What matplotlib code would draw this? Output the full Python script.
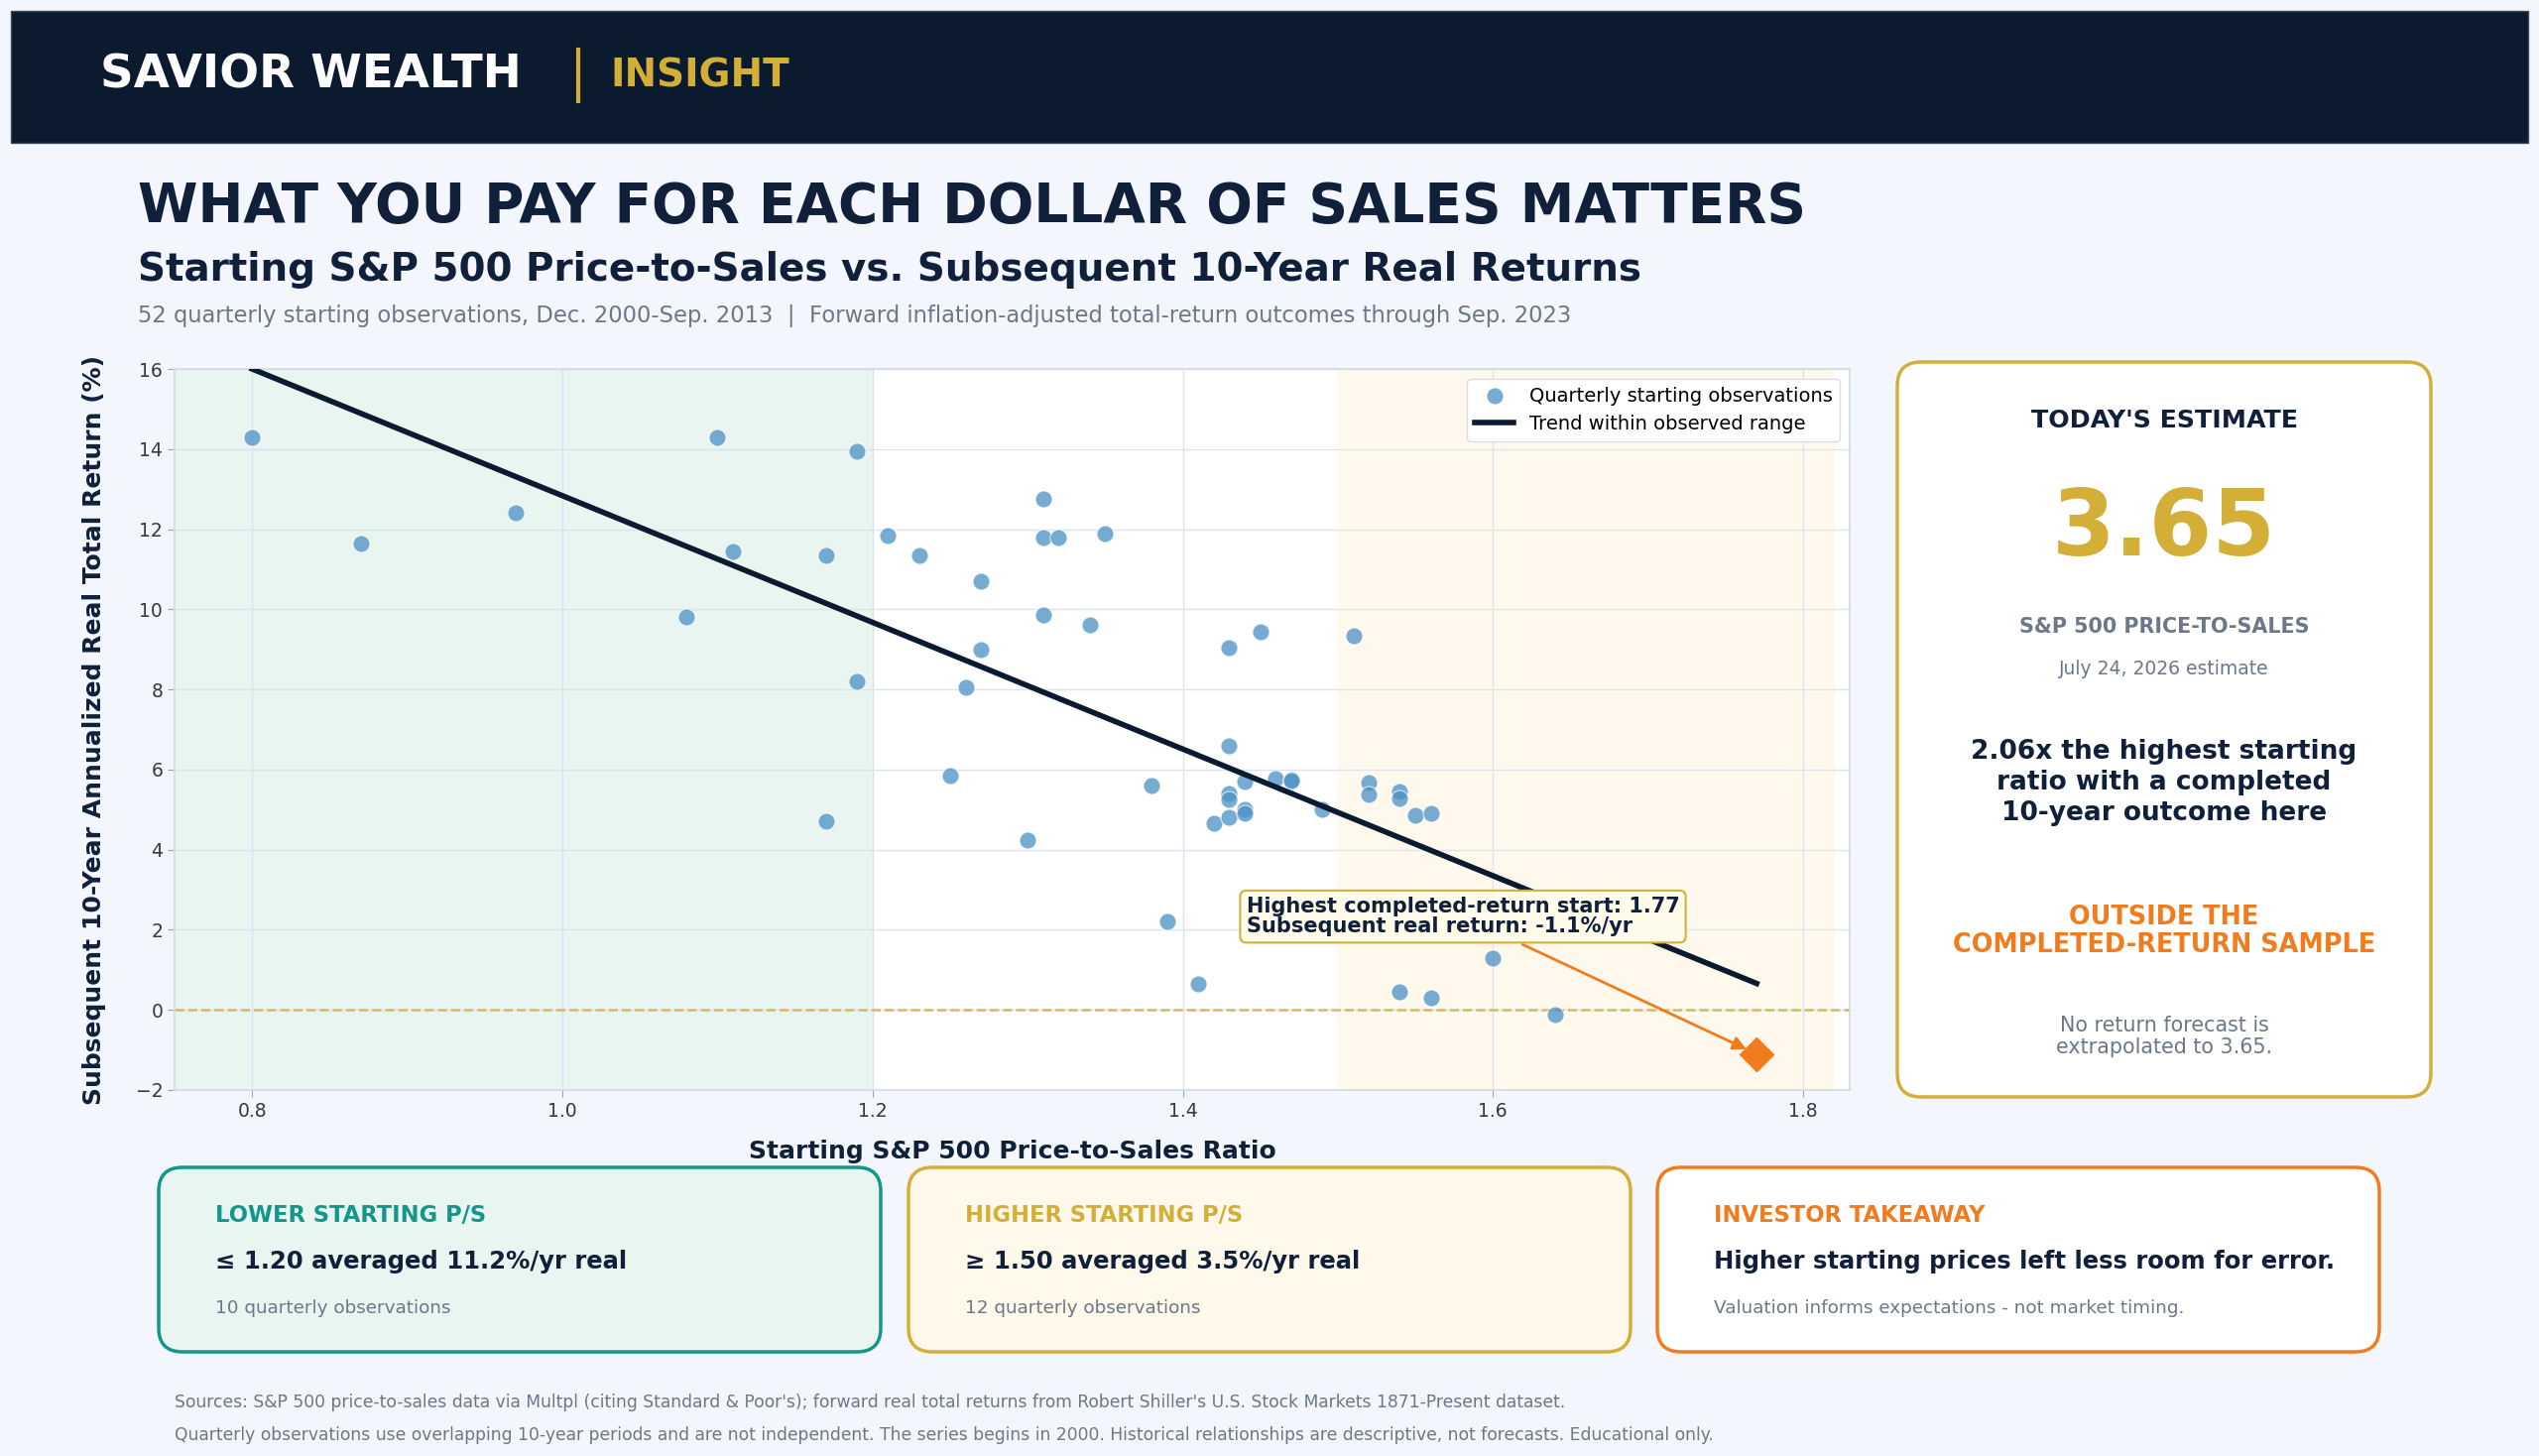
import matplotlib
matplotlib.use("Agg")
import matplotlib.pyplot as plt
from matplotlib.patches import FancyBboxPatch, Rectangle

# starting P/S ratio and subsequent 10y real return (%)
ps_ratio = [0.80, 0.87, 0.97, 1.08, 1.10, 1.11, 1.17, 1.17, 1.19, 1.19,
            1.21, 1.23, 1.25, 1.26, 1.27, 1.27, 1.30, 1.31, 1.31, 1.32,
            1.31, 1.34, 1.35, 1.38, 1.39, 1.41, 1.42, 1.43, 1.43, 1.43,
            1.43, 1.43, 1.44, 1.44, 1.44, 1.45, 1.46, 1.47, 1.47, 1.49,
            1.51, 1.52, 1.52, 1.54, 1.54, 1.55, 1.56, 1.54, 1.56, 1.60,
            1.64, 1.77]
real_ret = [14.3, 11.65, 12.4, 9.8, 14.3, 11.45, 11.35, 4.7, 13.95, 8.2,
            11.85, 11.35, 5.85, 8.05, 10.7, 9.0, 4.25, 12.75, 11.8, 11.8,
            9.85, 9.6, 11.9, 5.6, 2.2, 0.65, 4.65, 9.05, 6.6, 5.4,
            5.25, 4.8, 5.7, 5.0, 4.92, 9.45, 5.78, 5.75, 5.72, 5.0,
            9.35, 5.68, 5.38, 5.46, 5.27, 4.86, 4.9, 0.45, 0.3, 1.3,
            -0.12, -1.1]
trend_x = [0.80, 1.77]
trend_y = [16.0, 0.66]
highest_ps = 1.77
highest_ret = -1.1
low_cut = 1.20
high_cut = 1.50
x_ticks = [0.8, 1.0, 1.2, 1.4, 1.6, 1.8]
y_ticks = [-2, 0, 2, 4, 6, 8, 10, 12, 14, 16]

NAVY = "#0b1a2f"
TEXT = "#10203a"
GOLD = "#d4af37"
ORANGE = "#f07c1e"
TEAL = "#12978a"
GREY = "#6b778a"
DOT = "#4a90c4"
BG = "#f3f7fd"

W, H = 2560, 1468
fig = plt.figure(figsize=(W / 100, H / 100), dpi=100, facecolor=BG)

# background layer in pixel coordinates
bg = fig.add_axes([0, 0, 1, 1], zorder=0)
bg.set_xlim(0, W)
bg.set_ylim(H, 0)
bg.axis("off")

bg.add_patch(Rectangle((11, 11), 2538, 133, facecolor=NAVY, edgecolor="#3b4a5f", lw=1))
bg.text(101, 76, "SAVIOR WEALTH", color="white", fontsize=33.7, fontweight="bold", va="center")
bg.plot([583, 583], [50, 102], color=GOLD, lw=3)
bg.text(615, 76, "INSIGHT", color=GOLD, fontsize=28, fontweight="bold", va="center")

bg.text(139, 209, "WHAT YOU PAY FOR EACH DOLLAR OF SALES MATTERS", color=TEXT,
        fontsize=39.5, fontweight="bold", va="center")
bg.text(139, 272, "Starting S&P 500 Price-to-Sales vs. Subsequent 10-Year Real Returns",
        color=TEXT, fontsize=28, fontweight="bold", va="center")
bg.text(139, 318, "52 quarterly starting observations, Dec. 2000-Sep. 2013  |  "
        "Forward inflation-adjusted total-return outcomes through Sep. 2023",
        color=GREY, fontsize=16.3, va="center")

# right-hand card
bg.add_patch(FancyBboxPatch((1913, 365), 538, 741, boxstyle="round,pad=0,rounding_size=24",
                            facecolor="white", edgecolor=GOLD, lw=2.5))
cx = 2182
bg.text(cx, 424, "TODAY'S ESTIMATE", color=TEXT, fontsize=18.2, fontweight="bold", ha="center", va="center")
bg.text(cx, 534, "3.65", color=GOLD, fontsize=66, fontweight="bold", ha="center", va="center")
bg.text(cx, 632, "S&P 500 PRICE-TO-SALES", color=GREY, fontsize=14.9, fontweight="bold", ha="center", va="center")
bg.text(cx, 674, "July 24, 2026 estimate", color=GREY, fontsize=13.5, ha="center", va="center")
bg.text(cx, 789, "2.06x the highest starting\nratio with a completed\n10-year outcome here",
        color=TEXT, fontsize=19, fontweight="bold", ha="center", va="center", linespacing=1.25)
bg.text(cx, 939, "OUTSIDE THE\nCOMPLETED-RETURN SAMPLE", color=ORANGE, fontsize=18.4,
        fontweight="bold", ha="center", va="center", linespacing=1.15)
bg.text(cx, 1045, "No return forecast is\nextrapolated to 3.65.", color=GREY, fontsize=14.9,
        ha="center", va="center", linespacing=1.1)

# bottom cards
cards = [
    (160, "#e8f5f1", TEAL, "LOWER STARTING P/S", "\u2264 1.20 averaged 11.2%/yr real", "10 quarterly observations"),
    (916, "#fef9ea", GOLD, "HIGHER STARTING P/S", "\u2265 1.50 averaged 3.5%/yr real", "12 quarterly observations"),
    (1671, "white", ORANGE, "INVESTOR TAKEAWAY", "Higher starting prices left less room for error.",
     "Valuation informs expectations - not market timing."),
]
for x0, face, edge, head, main, small in cards:
    bg.add_patch(FancyBboxPatch((x0, 1177), 728, 186, boxstyle="round,pad=0,rounding_size=24",
                                facecolor=face, edgecolor=edge, lw=2.5))
    bg.text(x0 + 57, 1226, head, color=edge, fontsize=16.3, fontweight="bold", va="center")
    bg.text(x0 + 57, 1272, main, color=TEXT, fontsize=17.5, fontweight="bold", va="center")
    bg.text(x0 + 57, 1319, small, color=GREY, fontsize=13.2, va="center")

bg.text(176, 1414, "Sources: S&P 500 price-to-sales data via Multpl (citing Standard & Poor's); forward real total "
        "returns from Robert Shiller's U.S. Stock Markets 1871-Present dataset.", color=GREY, fontsize=12.35, va="center")
bg.text(176, 1447, "Quarterly observations use overlapping 10-year periods and are not independent. The series begins "
        "in 2000. Historical relationships are descriptive, not forecasts. Educational only.",
        color=GREY, fontsize=12.35, va="center")

# main scatter
ax = fig.add_axes([176 / W, 1 - 1099 / H, (1865 - 176) / W, (1099 - 372) / H], zorder=2)
ax.set_facecolor("white")
ax.set_xlim(0.75, 1.83)
ax.set_ylim(-2, 16)
ax.axvspan(0.75, low_cut, color="#e8f5f0", zorder=0)
ax.axvspan(high_cut, 1.82, color="#fef9ec", zorder=0)
ax.grid(True, color="#dde3ec", lw=1)
ax.set_axisbelow(True)
ax.axhline(0, color="#d8b968", lw=1.8, ls="--", zorder=1)

ax.scatter(ps_ratio[:-1], real_ret[:-1], s=150, color=DOT, alpha=0.75, edgecolor="white",
           linewidth=0.8, zorder=3, label="Quarterly starting observations")
ax.plot(trend_x, trend_y, color=NAVY, lw=4, zorder=4, label="Trend within observed range")
ax.scatter([highest_ps], [highest_ret], marker="D", s=300, color=ORANGE, zorder=5)

ax.annotate("Highest completed-return start: %.2f\nSubsequent real return: %.1f%%/yr" % (highest_ps, highest_ret),
            xy=(highest_ps, highest_ret), xytext=(1.441, 2.33), va="center", ha="left",
            fontsize=15, fontweight="bold", color=TEXT, linespacing=1.0,
            bbox=dict(boxstyle="round,pad=0.3", facecolor="#fffbea", edgecolor=GOLD, lw=1.5),
            arrowprops=dict(arrowstyle="-|>", color=ORANGE, lw=2, mutation_scale=20, shrinkB=8),
            zorder=6)

ax.set_xticks(x_ticks)
ax.set_yticks(y_ticks)
ax.tick_params(labelsize=13.5, colors="#333a46", length=5, color="#9aa4b2")
for sp in ax.spines.values():
    sp.set_color("#d3dae4")
    sp.set_linewidth(1.2)

ax.set_xlabel("Starting S&P 500 Price-to-Sales Ratio", fontsize=18, fontweight="bold", color=TEXT, va="center")
ax.xaxis.set_label_coords(0.5, -0.085)
ax.set_ylabel("Subsequent 10-Year Annualized Real Total Return (%)", fontsize=18, fontweight="bold",
              color=TEXT, va="center")
ax.yaxis.set_label_coords(-0.048, 0.5)

leg = ax.legend(loc="upper right", fontsize=14, frameon=True, fancybox=True, framealpha=1,
                borderaxespad=0.5)
leg.get_frame().set_edgecolor("#d8dde5")

fig.savefig("out.png", dpi=100, facecolor=BG)
